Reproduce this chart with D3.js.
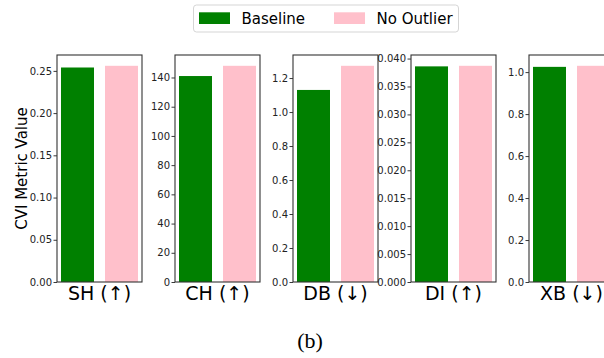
<!DOCTYPE html>
<html><head><meta charset="utf-8">
<script src="https://cdn.jsdelivr.net/npm/d3@7"></script>
<style>html,body{margin:0;padding:0;background:#fff;}svg{display:block;}</style>
</head><body>
<svg id="chart" width="604" height="358"></svg>
<script>
const metrics = ["SH (↑)", "CH (↑)", "DB (↓)", "DI (↑)", "XB (↓)"];
const seriesNames = ["Baseline", "No Outlier"];
const seriesColors = ["#008000", "#FFC0CB"];
const baseline = [0.254, 141, 1.13, 0.0386, 1.025];
const noOutlier = [0.256, 148, 1.272, 0.0387, 1.030];
const tickValues = [
  [0, 0.05, 0.10, 0.15, 0.20, 0.25],
  [0, 20, 40, 60, 80, 100, 120, 140],
  [0, 0.2, 0.4, 0.6, 0.8, 1.0, 1.2],
  [0, 0.005, 0.010, 0.015, 0.020, 0.025, 0.030, 0.035, 0.040],
  [0, 0.2, 0.4, 0.6, 0.8, 1.0]
];
const tickFormats = [".2f", "d", ".1f", ".3f", ".1f"];
const yLabel = "CVI Metric Value";
const caption = "(b)";

(function () {
const svg = d3.select("#chart");
const panelLeft0 = 57, panelStep = 118, panelW = 85, plotTop = 55, plotBottom = 282;
const font = "DejaVu Sans, sans-serif";

metrics.forEach((m, i) => {
  const left = panelLeft0 + i * panelStep;
  const vals = [baseline[i], noOutlier[i]];
  const x = d3.scaleBand().domain(seriesNames).range([left, left + panelW])
    .paddingInner(0.25).paddingOuter(0.091);
  const y = d3.scaleLinear().domain([0, d3.max(vals) * 1.05]).range([plotBottom, plotTop]);
  const g = svg.append("g");
  g.selectAll("rect.bar").data(seriesNames).join("rect")
    .attr("class", "bar")
    .attr("x", d => x(d)).attr("width", x.bandwidth())
    .attr("y", (d, j) => y(vals[j])).attr("height", (d, j) => y(0) - y(vals[j]))
    .attr("fill", (d, j) => seriesColors[j]);
  const ax = g.append("g").attr("transform", `translate(${left},0)`)
    .call(d3.axisLeft(y).tickValues(tickValues[i]).tickFormat(d3.format(tickFormats[i]))
      .tickSize(3.5).tickPadding(1.5));
  ax.select(".domain").remove();
  ax.selectAll(".tick line").attr("stroke", "#222").attr("stroke-width", 0.9);
  ax.selectAll(".tick text").attr("font-family", font).attr("font-size", 10).attr("fill", "#222");
  g.append("rect").attr("x", left).attr("y", plotTop).attr("width", panelW).attr("height", plotBottom - plotTop)
    .attr("fill", "none").attr("stroke", "#333").attr("stroke-width", 1.1);
  g.append("text").attr("x", left + panelW / 2).attr("y", 300)
    .attr("text-anchor", "middle").attr("font-family", font).attr("font-size", 19)
    .attr("fill", "#000").text(m);
});

svg.append("text").attr("transform", `translate(27,${(plotTop + plotBottom) / 2}) rotate(-90)`)
  .attr("text-anchor", "middle").attr("font-family", font).attr("font-size", 15)
  .attr("fill", "#000").text(yLabel);

const lg = svg.append("g");
lg.append("rect").attr("x", 193.5).attr("y", 5).attr("width", 265).attr("height", 27)
  .attr("rx", 3).attr("fill", "#fff").attr("stroke", "#d0d0d0").attr("stroke-width", 0.9);
const legX = [199, 334];
seriesNames.forEach((s, j) => {
  lg.append("rect").attr("x", legX[j]).attr("y", 12.3).attr("width", 31).attr("height", 11.7)
    .attr("fill", seriesColors[j]);
  lg.append("text").attr("x", legX[j] + 42.5).attr("y", 24.3)
    .attr("font-family", font).attr("font-size", 15).attr("fill", "#000").text(s);
});

svg.append("text").attr("x", 310).attr("y", 348).attr("text-anchor", "middle")
  .attr("font-family", "Liberation Serif, Times New Roman, serif").attr("font-size", 22)
  .attr("fill", "#000").text(caption);
})();
</script>
</body></html>
